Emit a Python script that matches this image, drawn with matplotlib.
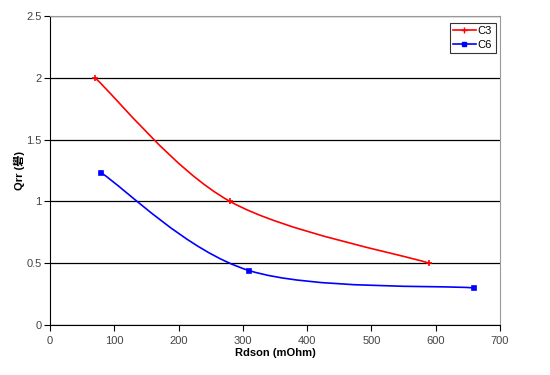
import matplotlib
matplotlib.use("Agg")
import matplotlib.pyplot as plt
from matplotlib.path import Path
from matplotlib.patches import PathPatch
import numpy as np

# Data
c3_x = [70, 280, 590]
c3_y = [2.0, 1.0, 0.5]
c6_x = [80, 310, 660]
c6_y = [1.23, 0.44, 0.30]
x_ticks = [0, 100, 200, 300, 400, 500, 600, 700]
y_ticks = [0, 0.5, 1, 1.5, 2, 2.5]
y_tick_labels = ["0", "0.5", "1", "1.5", "2", "2.5"]
unit = bytes([0xB5, 0x43]).decode('gbk')
x_label = "Rdson (mOhm)"
y_label = "Qrr (" + unit + ")"

plt.rcParams['font.family'] = ['Liberation Sans', 'Noto Sans CJK SC', 'DejaVu Sans']

fig = plt.figure(figsize=(5.5, 3.75), dpi=100)
ax = fig.add_axes([50/550, 50/375, 450/550, 309/375])


def smooth_path(xs, ys):
    # Excel-style smoothed line: cubic Bezier with control points from neighbours
    pts = np.column_stack([xs, ys]).astype(float)
    n = len(pts)
    verts = [pts[0]]
    codes = [Path.MOVETO]
    for i in range(n - 1):
        p0 = pts[i - 1] if i > 0 else pts[i]
        p1 = pts[i]
        p2 = pts[i + 1]
        p3 = pts[i + 2] if i + 2 < n else pts[i + 1]
        c1 = p1 + (p2 - p0) / 6.0
        c2 = p2 - (p3 - p1) / 6.0
        verts += [c1, c2, p2]
        codes += [Path.CURVE4] * 3
    return Path(verts, codes)


for xs, ys, col, mk, ms, lab in [
    (c3_x, c3_y, '#ff0000', '+', 4.5, 'C3'),
    (c6_x, c6_y, '#0000ff', 's', 3.5, 'C6'),
]:
    ax.add_patch(PathPatch(smooth_path(xs, ys), facecolor='none', edgecolor=col, lw=1.2, zorder=3))
    ax.plot(xs, ys, linestyle='none', marker=mk, color=col, ms=ms, mew=1.2, zorder=4)
    ax.plot([], [], color=col, marker=mk, ms=ms, lw=1.2, label=lab)

ax.set_xlim(0, 700)
ax.set_ylim(0, 2.5)
ax.set_xticks(x_ticks)
ax.set_yticks(y_ticks)
ax.set_yticklabels(y_tick_labels)
ax.yaxis.grid(True, color='black', lw=0.9)
ax.set_axisbelow(True)
for s in ['top', 'right']:
    ax.spines[s].set_color('#999999')
for s in ['left', 'bottom']:
    ax.spines[s].set_color('black')
ax.tick_params(axis='both', labelsize=8, colors='black', labelcolor='#444444', length=4, width=0.8, direction='out')
ax.tick_params(axis='y', pad=2)
ax.tick_params(axis='x', pad=4)

ax.set_xlabel(x_label, fontsize=8, fontweight='bold', labelpad=1)
ax.set_ylabel(y_label, fontsize=8, fontweight='bold', labelpad=1)

leg = ax.legend(loc='upper right', bbox_to_anchor=(0.995, 0.985), fontsize=8, frameon=True,
                fancybox=False, handlelength=2.0, borderpad=0.3, labelspacing=0.3,
                handletextpad=0.2, borderaxespad=0.2)
leg.get_frame().set_edgecolor('black')
leg.get_frame().set_linewidth(0.8)

fig.savefig("out.png", dpi=100)
